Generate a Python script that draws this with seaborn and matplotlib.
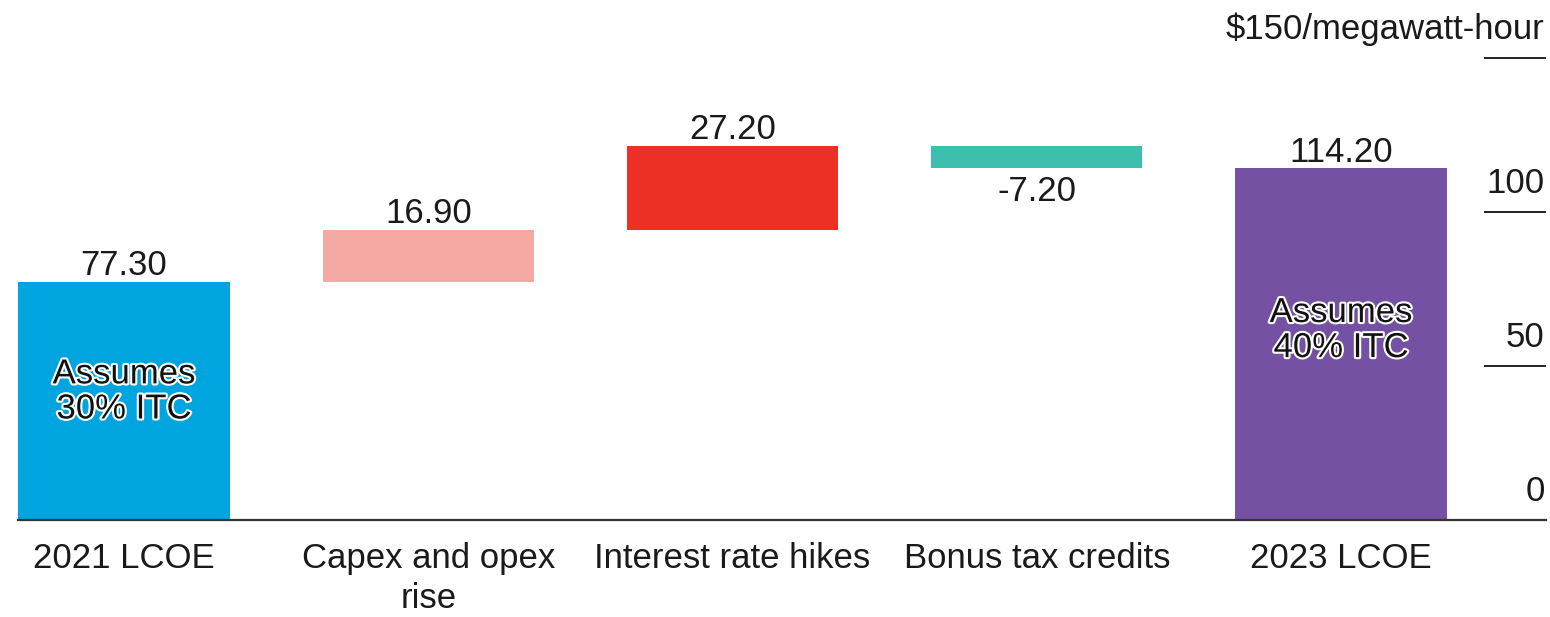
import matplotlib
matplotlib.use("Agg")
import matplotlib.pyplot as plt
import matplotlib.patheffects as pe
import matplotlib.transforms as mtransforms
import seaborn as sns
import pandas as pd

# ---- data ----
categories = ["2021 LCOE", "Capex and opex\nrise", "Interest rate hikes",
              "Bonus tax credits", "2023 LCOE"]
values = [77.30, 16.90, 27.20, -7.20, 114.20]
is_total = [True, False, False, False, True]
value_labels = ["77.30", "16.90", "27.20", "-7.20", "114.20"]
bar_colors = ["#00A5E0", "#F4A9A3", "#EC3025", "#3DBFAD", "#7551A3"]
inner_notes = ["Assumes\n30% ITC", "", "", "", "Assumes\n40% ITC"]
y_ticks = [0, 50, 100, 150]
y_tick_labels = ["0", "50", "100", "$150/megawatt-hour"]

# ---- waterfall geometry from data ----
bottoms, heights, tops = [], [], []
running = 0.0
for v, tot in zip(values, is_total):
    if tot:
        b, h = 0.0, v
        running = v
    else:
        b = running if v >= 0 else running + v
        h = abs(v)
        running += v
    bottoms.append(b)
    heights.append(h)
    tops.append(b + h)

df = pd.DataFrame({"category": categories, "height": heights})

sns.set_theme(style="white")
plt.rcParams["font.family"] = ["Liberation Sans", "DejaVu Sans"]
TXT = "#1a1a1a"
FS = 25

W, H = 1550, 617
fig = plt.figure(figsize=(W / 100, H / 100), dpi=100, facecolor="white")
left_px, right_px, base_px, top_px = 18, 1546, 520, 58
ax = fig.add_axes([left_px / W, (H - base_px) / H,
                   (right_px - left_px) / W, (base_px - top_px) / H])

sns.barplot(data=df, x="category", y="height", hue="category",
            palette=bar_colors, width=0.695, saturation=1, legend=False,
            ax=ax, zorder=2)

# float the bars to their waterfall bottoms
for cont, b in zip(ax.containers, bottoms):
    for p in cont.patches:
        p.set_y(b)
        p.set_linewidth(0)

# x scaling: centers 124 px and 1341 px
ppu = (1341 - 124) / 4
ax.set_xlim(-(124 - left_px) / ppu, (right_px - 124) / ppu)
ax.set_ylim(0, 150)

# value labels
for i, (v, lab) in enumerate(zip(values, value_labels)):
    if v >= 0:
        ax.annotate(lab, xy=(i, tops[i]), xytext=(0, 4.8), textcoords="offset points",
                    ha="center", va="baseline", fontsize=FS, color=TXT)
    else:
        ax.annotate(lab, xy=(i, bottoms[i]), xytext=(0, -4.5), textcoords="offset points",
                    ha="center", va="top", fontsize=FS, color=TXT)

# inner notes with white halo
for i, note in enumerate(inner_notes):
    if note:
        ax.text(i, tops[i] * 0.54, note, ha="center", va="center",
                fontsize=FS, color="#111111", linespacing=1.08,
                path_effects=[pe.withStroke(linewidth=3, foreground="white")])

# x axis
ax.set_xticks(range(len(categories)))
ax.set_xticklabels(categories, fontsize=FS, color=TXT, linespacing=1.25)
ax.tick_params(axis="x", length=0, pad=16)
ax.set_xlabel("")
ax.set_ylabel("")

# y axis on right: inward tick lines with labels above them
ax.yaxis.tick_right()
ax.set_yticks(y_ticks)
ax.tick_params(axis="y", direction="in", length=44.6, width=1.4,
               color="#222222", labelright=False, labelleft=False)
trans = mtransforms.blended_transform_factory(ax.transAxes, ax.transData)
for v, lab in zip(y_ticks, y_tick_labels):
    ax.annotate(lab, xy=(1, v), xycoords=trans, xytext=(-1, 13.5),
                textcoords="offset points", ha="right", va="baseline",
                fontsize=FS, color=TXT, annotation_clip=False)

for s in ["top", "left", "right"]:
    ax.spines[s].set_visible(False)
ax.spines["bottom"].set_color("#333333")
ax.spines["bottom"].set_linewidth(1.6)
ax.spines["bottom"].set_zorder(3)
ax.set_facecolor("white")

fig.savefig("out.png", dpi=100, facecolor="white")
